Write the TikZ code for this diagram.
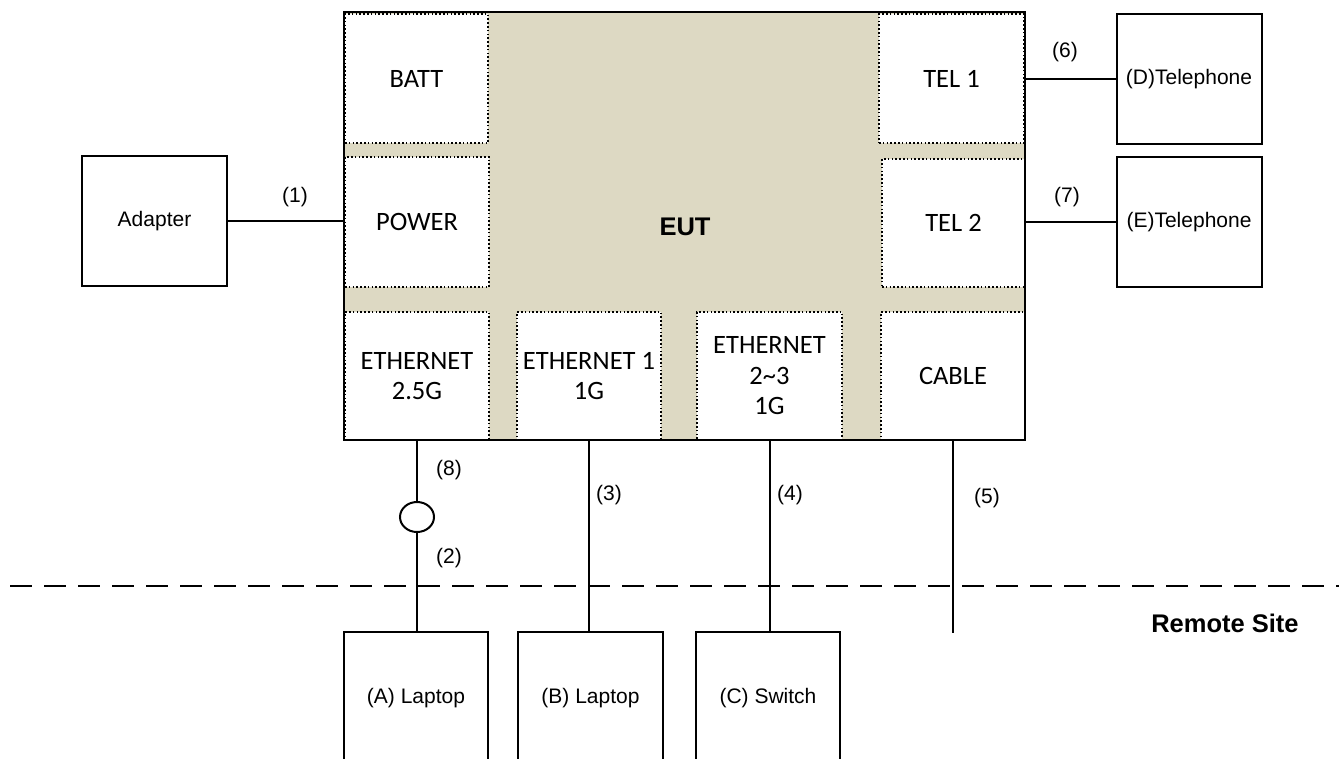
\documentclass[tikz,border=0pt]{standalone}
\usepackage{fontspec}
\setmainfont{Liberation Sans}
\newfontfamily\calfont{Carlito}
\usetikzlibrary{shapes.geometric}
\definecolor{eutbg}{RGB}{221,217,195}
\tikzset{
  port/.style={draw, line width=1.6pt, dash pattern=on 1.6pt off 2.2pt, fill=white,
    inner sep=0pt, outer sep=0pt, align=center,
    font=\calfont\fontsize{26.5}{30.5}\selectfont},
  dev/.style={draw, line width=2pt, fill=white, inner sep=0pt, outer sep=0pt,
    minimum width=145pt, minimum height=130pt, align=center,
    font=\fontsize{21}{25}\selectfont},
  wire/.style={line width=2pt},
  lbl/.style={font=\fontsize{21}{25}\selectfont, inner sep=0pt},
  bigbold/.style={font=\bfseries\fontsize{25.5}{30}\selectfont, inner sep=0pt}
}
\begin{document}
\begin{tikzpicture}[x=1pt,y=-1pt]
\clip (0,0) rectangle (1339,758);
\fill[white] (0,0) rectangle (1339,758);
% EUT background
\fill[eutbg] (344,12) rectangle (1025,440);
\node[bigbold] (eut) at (685,227) {EUT};
% ports
\node[port, minimum width=143pt, minimum height=129pt] (batt) at (416.5,78.5) {BATT};
\node[port, minimum width=144pt, minimum height=130pt] (power) at (417,222) {POWER};
\node[port, minimum width=145pt, minimum height=129pt] (tel1) at (951.5,78.5) {TEL 1};
\node[port, minimum width=143pt, minimum height=128pt] (tel2) at (953.5,223) {TEL 2};
\node[port, minimum width=144pt, minimum height=128pt] (eth25) at (417,376) {ETHERNET\\2.5G};
\node[port, minimum width=144pt, minimum height=128pt] (eth1) at (589,376) {ETHERNET 1\\1G};
\node[port, minimum width=145pt, minimum height=128pt] (eth23) at (769.5,376) {ETHERNET\\2\textasciitilde3\\1G};
\node[port, minimum width=144pt, minimum height=128pt] (cable) at (953,376) {CABLE};
% EUT border
\draw[line width=2pt] (344,12) rectangle (1025,440);
% external devices
\node[dev] (adapter) at (154.5,221) {Adapter};
\node[dev] (dphone) at (1189,79) {(D)Telephone};
\node[dev] (ephone) at (1189,222) {(E)Telephone};
\node[dev, minimum width=144pt, minimum height=132pt] (lapA) at (416,698) {(A) Laptop};
\node[dev, minimum width=145pt, minimum height=132pt] (lapB) at (590.5,698) {(B) Laptop};
\node[dev, minimum width=144pt, minimum height=132pt] (swC) at (768,698) {(C) Switch};
% ferrite
\node[draw, ellipse, line width=2pt, minimum width=34pt, minimum height=30pt, inner sep=0pt] (ferr) at (417,517) {};
% remote boundary
\coordinate (dL) at (10,586);
\coordinate (dR) at (1339,586);
\draw[line width=2pt, dash pattern=on 22pt off 12pt] (dL) -- (dR);
\coordinate (cabEnd) at (953,633);
% connectors
\draw[wire] (adapter.east) -- (adapter.east -| power.west);
\draw[wire] (tel1.east |- dphone.west) -- (dphone.west);
\draw[wire] (tel2.east |- ephone.west) -- (ephone.west);
\draw[wire] (eth25.south) -- (ferr.north);
\draw[wire] (ferr.south) -- (ferr.south |- lapA.north);
\draw[wire] (eth1.south) -- (eth1.south |- lapB.north);
\draw[wire] (eth23.south) -- (eth23.south |- swC.north);
\draw[wire] (cable.south) -- (cabEnd);
% labels
\node[lbl] (l1) at (295,197) {(1)};
\node[lbl] (l6) at (1065,52) {(6)};
\node[lbl] (l7) at (1067,197) {(7)};
\node[lbl] (l8) at (449,470) {(8)};
\node[lbl] (l2) at (449,558) {(2)};
\node[lbl] (l3) at (609,495) {(3)};
\node[lbl] (l4) at (790,495) {(4)};
\node[lbl] (l5) at (987,498) {(5)};
\node[bigbold] (remote) at (1225,623) {Remote Site};
\end{tikzpicture}
\end{document}
